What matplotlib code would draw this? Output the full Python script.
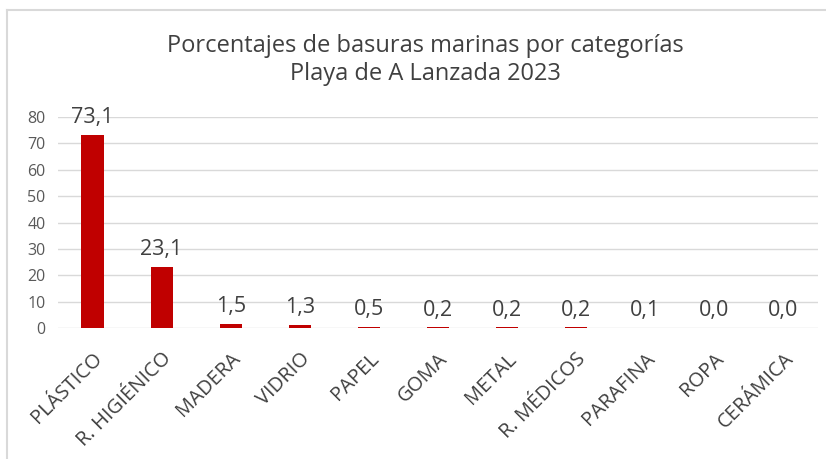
import matplotlib
matplotlib.use("Agg")
import matplotlib.pyplot as plt
from matplotlib.lines import Line2D

categorias = ["PLÁSTICO", "R. HIGIÉNICO", "MADERA", "VIDRIO", "PAPEL", "GOMA",
              "METAL", "R. MÉDICOS", "PARAFINA", "ROPA", "CERÁMICA"]
porcentajes = [73.1, 23.1, 1.5, 1.3, 0.5, 0.2, 0.2, 0.2, 0.1, 0.0, 0.0]
yticks = [0, 10, 20, 30, 40, 50, 60, 70, 80]

plt.rcParams['font.family'] = ['Open Sans', 'DejaVu Sans']

fig = plt.figure(figsize=(8.26, 4.59), dpi=100)
fig.patch.set_facecolor('white')

# chart border (left and top only visible)
fig.add_artist(Line2D([0.0085, 0.0085], [0.0, 0.978], color='#d9d9d9', lw=1.5))
fig.add_artist(Line2D([0.0085, 1.0], [0.978, 0.978], color='#d9d9d9', lw=1.5))

ax = fig.add_axes([0.0702, 0.2854, 0.9198, 0.4596])
x = list(range(len(categorias)))
ax.bar(x, porcentajes, width=0.32, color='#c00000', zorder=3)

for xi, v in zip(x, porcentajes):
    ax.annotate(f"{v:.1f}".replace('.', ','), (xi, v), xytext=(0, 5),
                textcoords='offset points', ha='center', va='bottom',
                fontsize=15.5, color='#404040', zorder=4)

ax.set_xlim(-0.5, len(categorias) - 0.5)
ax.set_ylim(0, 80)
ax.set_yticks(yticks)
ax.yaxis.grid(True, color='#d9d9d9', lw=1, zorder=0)
ax.set_axisbelow(True)
for s in ax.spines.values():
    s.set_visible(False)
ax.tick_params(axis='y', length=0, labelsize=11.5, labelcolor='#595959', pad=9)
ax.tick_params(axis='x', length=0, labelsize=14.5, labelcolor='#404040', pad=15)
ax.set_xticks(x)
ax.set_xticklabels(categorias, rotation=45, ha='right', rotation_mode='anchor')

fig.text(0.515, 0.869, "Porcentajes de basuras marinas por categorías\nPlaya de A Lanzada 2023",
         ha='center', va='center', fontsize=17, color='#404040', linespacing=1.25)

fig.savefig("out.png", dpi=100)
